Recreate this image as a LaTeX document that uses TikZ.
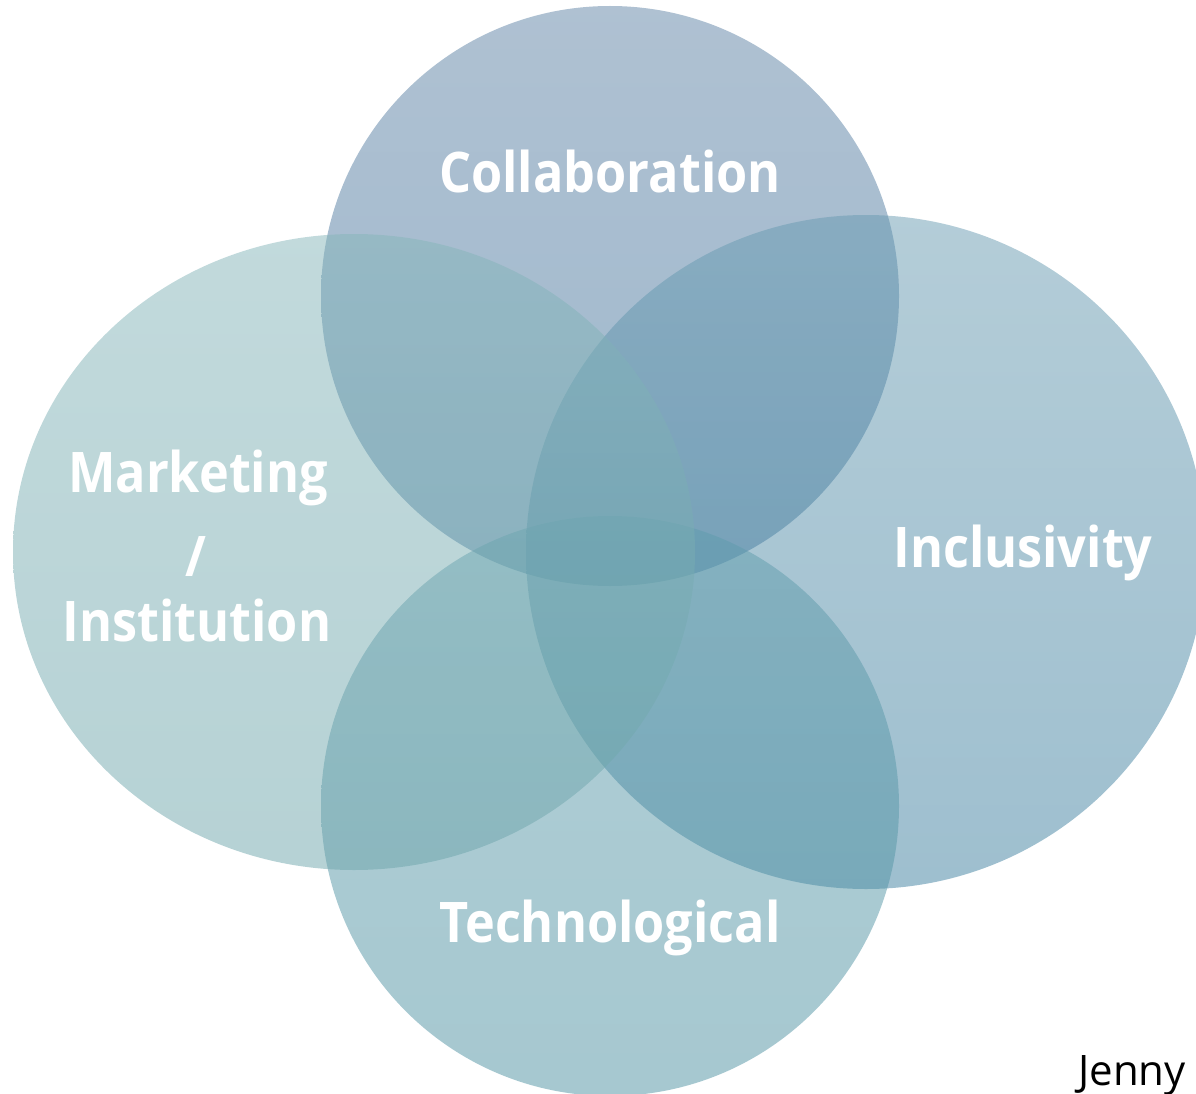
\documentclass[tikz,border=0pt]{standalone}
\usepackage{fontspec}
\setmainfont{Open Sans}
\newfontfamily\lab[FakeStretch=0.90]{Open Sans}
\definecolor{topA}{RGB}{95,131,165}
\definecolor{topB}{RGB}{61,113,155}
\definecolor{leftA}{RGB}{133,181,185}
\definecolor{leftB}{RGB}{109,165,171}
\definecolor{rightA}{RGB}{105,155,177}
\definecolor{rightB}{RGB}{61,127,159}
\definecolor{botA}{RGB}{97,157,173}
\definecolor{botB}{RGB}{77,145,161}
\begin{document}
\begin{tikzpicture}[x=1pt,y=-1pt,
  blob/.style={opacity=0.5},
  lbl/.style={text=white,font=\lab\bfseries\fontsize{56}{60}\selectfont,anchor=base,inner sep=0pt}]
\useasboundingbox (0,0) rectangle (1196,1094);
\shade[blob,top color=topA,bottom color=topB] (610,296) ellipse [x radius=289,y radius=290];
\shade[blob,top color=rightA,bottom color=rightB] (866,552) ellipse [x radius=340,y radius=337];
\shade[blob,top color=botA,bottom color=botB] (610,806) ellipse [x radius=289,y radius=290];
\shade[blob,top color=leftA,bottom color=leftB] (354,552) ellipse [x radius=341,y radius=318];
\node[lbl] (collab) at (610,193) {Collaboration};
\node[lbl] (mark) at (198,492) {Marketing};
\node[lbl] (slash) at (196,576) {/};
\node[lbl] (inst) at (197,641) {Institution};
\node[lbl] (incl) at (1023,567) {Inclusivity};
\node[lbl] (tech) at (610,942) {Technological};
\node[anchor=base east,inner sep=0pt,font=\fontsize{42}{46}\selectfont] (jenny) at (1186,1085) {Jenny};
\end{tikzpicture}
\end{document}
